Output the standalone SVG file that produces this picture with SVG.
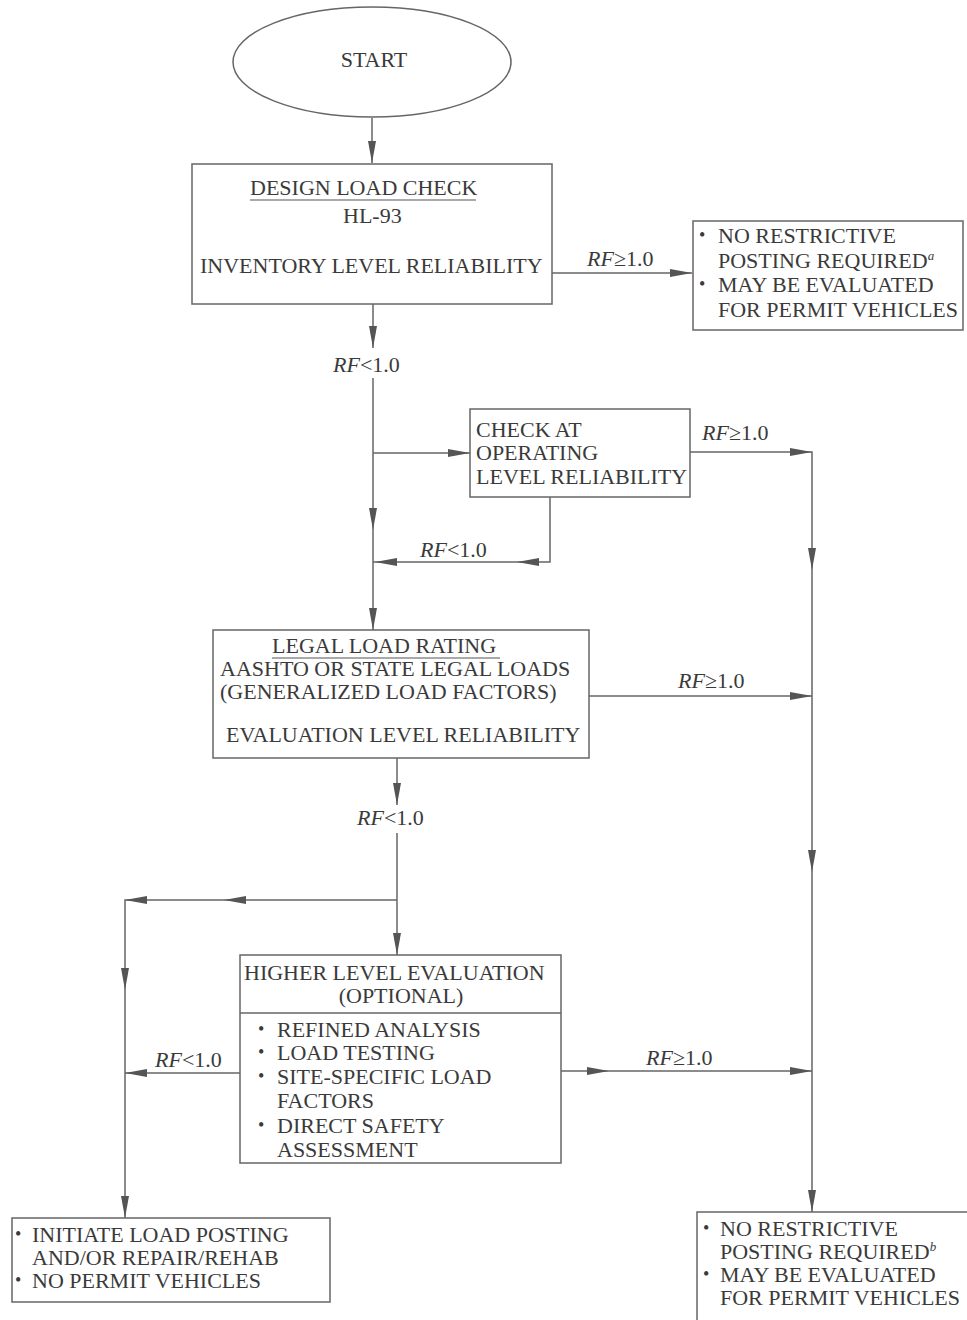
<svg xmlns="http://www.w3.org/2000/svg" xmlns:xlink="http://www.w3.org/1999/xlink" width="967" height="1320" viewBox="0 0 967 1320">
<style>
.bx{fill:#fff;stroke:#666;stroke-width:1.5}
.t{font-family:"Liberation Serif","Times New Roman",serif;font-size:22px;fill:#3a3a3a}
.c{text-anchor:middle}
.b{font-size:18px}
.i{font-style:italic}
.sup{font-size:13px;font-style:italic}
.ln{fill:none;stroke:#666;stroke-width:1.5}
.ul{stroke:#555;stroke-width:1.2}
.ah{fill:#555}
</style>
<defs>
<path id="ah" d="M0 0 L-22 -4 L-22 4 Z"/>
</defs>
<rect x="0" y="0" width="967" height="1320" fill="#fff"/>

<g id="connectors">
<g class="ln">
<path d="M372 118 V163"/>
<path d="M552 273 H692"/>
<path d="M373 304 V348"/>
<path d="M373 378 V630"/>
<path d="M373 453 H470"/>
<path d="M689 452 H812 V1212"/>
<path d="M550 497 V562 H373"/>
<path d="M589 696 H812"/>
<path d="M397 758 V805"/>
<path d="M397 833 V955"/>
<path d="M397 900 H125 V1218"/>
<path d="M240 1073 H125"/>
<path d="M561 1071 H812"/>
</g>
<g class="ah">
<use xlink:href="#ah" transform="translate(372 163) rotate(90)"/>
<use xlink:href="#ah" transform="translate(692 273)"/>
<use xlink:href="#ah" transform="translate(373 348) rotate(90)"/>
<use xlink:href="#ah" transform="translate(373 530) rotate(90)"/>
<use xlink:href="#ah" transform="translate(373 630) rotate(90)"/>
<use xlink:href="#ah" transform="translate(470 453)"/>
<use xlink:href="#ah" transform="translate(812 452)"/>
<use xlink:href="#ah" transform="translate(812 570) rotate(90)"/>
<use xlink:href="#ah" transform="translate(812 872) rotate(90)"/>
<use xlink:href="#ah" transform="translate(812 1212) rotate(90)"/>
<use xlink:href="#ah" transform="translate(517 562) rotate(180)"/>
<use xlink:href="#ah" transform="translate(375 562) rotate(180)"/>
<use xlink:href="#ah" transform="translate(812 696)"/>
<use xlink:href="#ah" transform="translate(397 805) rotate(90)"/>
<use xlink:href="#ah" transform="translate(397 955) rotate(90)"/>
<use xlink:href="#ah" transform="translate(224 900) rotate(180)"/>
<use xlink:href="#ah" transform="translate(125 900) rotate(180)"/>
<use xlink:href="#ah" transform="translate(125 990) rotate(90)"/>
<use xlink:href="#ah" transform="translate(125 1218) rotate(90)"/>
<use xlink:href="#ah" transform="translate(125 1073) rotate(180)"/>
<use xlink:href="#ah" transform="translate(609 1071)"/>
<use xlink:href="#ah" transform="translate(812 1071)"/>
</g>
<g class="t">
<text x="587" y="266"><tspan class="i">RF</tspan>≥1.0</text>
<text x="333" y="372"><tspan class="i">RF</tspan>&lt;1.0</text>
<text x="702" y="440"><tspan class="i">RF</tspan>≥1.0</text>
<text x="420" y="557"><tspan class="i">RF</tspan>&lt;1.0</text>
<text x="678" y="688"><tspan class="i">RF</tspan>≥1.0</text>
<text x="357" y="825"><tspan class="i">RF</tspan>&lt;1.0</text>
<text x="155" y="1067"><tspan class="i">RF</tspan>&lt;1.0</text>
<text x="646" y="1065"><tspan class="i">RF</tspan>≥1.0</text>
</g>
</g>

<g id="start">
<ellipse cx="372" cy="62" rx="139" ry="55" class="bx"/>
<text x="374" y="67" class="t c">START</text>
</g>

<g id="design">
<rect x="192" y="164" width="360" height="140" class="bx"/>
<text x="250" y="195" class="t">DESIGN LOAD CHECK</text>
<line x1="250" y1="200" x2="476" y2="200" class="ul"/>
<text x="343" y="223" class="t">HL-93</text>
<text x="200" y="273" class="t">INVENTORY LEVEL RELIABILITY</text>
</g>

<g id="ok1">
<rect x="693" y="221" width="270" height="109" class="bx"/>
<text x="699" y="241" class="t"><tspan class="b">•</tspan></text>
<text x="718" y="243" class="t">NO RESTRICTIVE</text>
<text x="718" y="268" class="t">POSTING REQUIRED<tspan class="sup" dy="-8">a</tspan></text>
<text x="699" y="290" class="t"><tspan class="b">•</tspan></text>
<text x="718" y="292" class="t">MAY BE EVALUATED</text>
<text x="718" y="317" class="t">FOR PERMIT VEHICLES</text>
</g>

<g id="operating">
<rect x="470" y="409" width="220" height="88" class="bx"/>
<text x="476" y="437" class="t">CHECK AT</text>
<text x="476" y="460" class="t">OPERATING</text>
<text x="476" y="484" class="t">LEVEL RELIABILITY</text>
</g>

<g id="legal">
<rect x="213" y="630" width="376" height="128" class="bx"/>
<text x="272" y="653" class="t">LEGAL LOAD RATING</text>
<line x1="272" y1="658" x2="500" y2="658" class="ul"/>
<text x="220" y="676" class="t">AASHTO OR STATE LEGAL LOADS</text>
<text x="220" y="699" class="t">(GENERALIZED LOAD FACTORS)</text>
<text x="226" y="742" class="t">EVALUATION LEVEL RELIABILITY</text>
</g>

<g id="higher">
<rect x="240" y="955" width="321" height="208" class="bx"/>
<line x1="240" y1="1013" x2="561" y2="1013" class="ln"/>
<text x="244" y="980" class="t">HIGHER LEVEL EVALUATION</text>
<text x="401" y="1003" class="t c">(OPTIONAL)</text>
<text x="258" y="1035" class="t"><tspan class="b">•</tspan></text>
<text x="277" y="1037" class="t">REFINED ANALYSIS</text>
<text x="258" y="1058" class="t"><tspan class="b">•</tspan></text>
<text x="277" y="1060" class="t">LOAD TESTING</text>
<text x="258" y="1082" class="t"><tspan class="b">•</tspan></text>
<text x="277" y="1084" class="t">SITE-SPECIFIC LOAD</text>
<text x="277" y="1108" class="t">FACTORS</text>
<text x="258" y="1131" class="t"><tspan class="b">•</tspan></text>
<text x="277" y="1133" class="t">DIRECT SAFETY</text>
<text x="277" y="1157" class="t">ASSESSMENT</text>
</g>

<g id="posting">
<rect x="12" y="1218" width="318" height="84" class="bx"/>
<text x="15" y="1240" class="t"><tspan class="b">•</tspan></text>
<text x="32" y="1242" class="t">INITIATE LOAD POSTING</text>
<text x="32" y="1265" class="t">AND/OR REPAIR/REHAB</text>
<text x="15" y="1286" class="t"><tspan class="b">•</tspan></text>
<text x="32" y="1288" class="t">NO PERMIT VEHICLES</text>
</g>

<g id="ok2">
<rect x="697" y="1212" width="275" height="115" class="bx"/>
<text x="703" y="1234" class="t"><tspan class="b">•</tspan></text>
<text x="720" y="1236" class="t">NO RESTRICTIVE</text>
<text x="720" y="1259" class="t">POSTING REQUIRED<tspan class="sup" dy="-8">b</tspan></text>
<text x="703" y="1280" class="t"><tspan class="b">•</tspan></text>
<text x="720" y="1282" class="t">MAY BE EVALUATED</text>
<text x="720" y="1305" class="t">FOR PERMIT VEHICLES</text>
</g>
</svg>
